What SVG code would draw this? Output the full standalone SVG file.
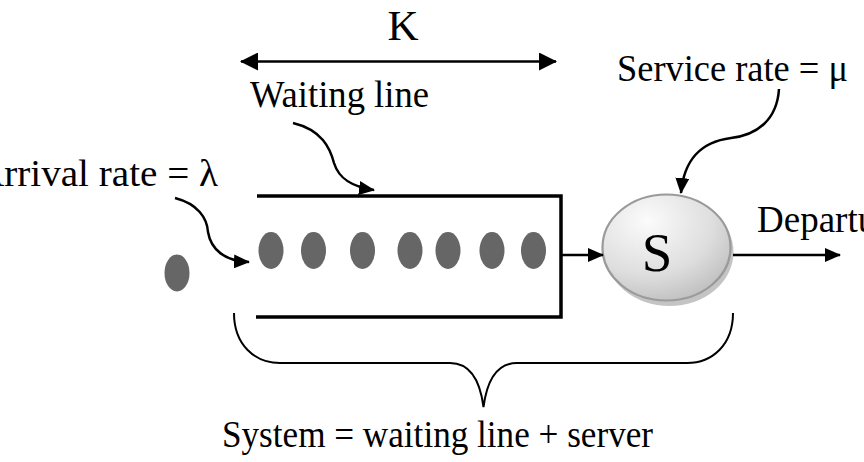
<svg xmlns="http://www.w3.org/2000/svg" width="864" height="462" viewBox="0 0 864 462">
<style>
text{font-family:"Liberation Serif","Times New Roman",serif;fill:#000}
.lbl{font-size:37px}
.dot{fill:#666666}
.box{fill:none;stroke:#000;stroke-width:3.5}
.con{fill:none;stroke:#000;stroke-width:2.5}
.brace{fill:none;stroke:#000;stroke-width:2}
</style>
<defs>
<marker id="ah" markerWidth="16" markerHeight="14" refX="15" refY="7" orient="auto" markerUnits="userSpaceOnUse">
<path d="M0,0 L16,7 L0,14 Z" fill="#000"/>
</marker>
<marker id="ahs" markerWidth="18" markerHeight="18" refX="17" refY="9" orient="auto-start-reverse" markerUnits="userSpaceOnUse">
<path d="M0,0 L18,9 L0,18 Z" fill="#000"/>
</marker>
<radialGradient id="sg" cx="0.35" cy="0.25" r="0.85">
<stop offset="0" stop-color="#fbfbfb"/>
<stop offset="0.6" stop-color="#dedede"/>
<stop offset="1" stop-color="#bababa"/>
</radialGradient>
</defs>

<g id="k-span">
<text x="403" y="40" font-size="43" text-anchor="middle">K</text>
<line x1="241" y1="61.5" x2="556" y2="61.5" class="con" stroke-width="2" marker-start="url(#ahs)" marker-end="url(#ahs)"/>
</g>

<g id="arrival-label"><text class="lbl" x="-24" y="186" textLength="242" lengthAdjust="spacingAndGlyphs">Arrival rate = λ</text></g>
<g id="waiting-label"><text class="lbl" x="250" y="107" textLength="179" lengthAdjust="spacingAndGlyphs">Waiting line</text></g>
<g id="service-label"><text class="lbl" x="617" y="81" textLength="231" lengthAdjust="spacingAndGlyphs">Service rate = μ</text></g>
<g id="departure-label"><text class="lbl" x="757" y="232" font-size="36">Departure</text></g>
<g id="system-label"><text class="lbl" x="222" y="447" textLength="431" lengthAdjust="spacingAndGlyphs">System = waiting line + server</text></g>

<g id="arriving-customer"><ellipse class="dot" cx="177" cy="273" rx="12.5" ry="18.5"/></g>

<g id="queue">
<path class="box" d="M257,196 H561 V317 H256"/>
<ellipse class="dot" cx="271" cy="250.5" rx="12.5" ry="18.5"/>
<ellipse class="dot" cx="313.5" cy="250.5" rx="12.5" ry="18.5"/>
<ellipse class="dot" cx="362.5" cy="250.5" rx="12.5" ry="18.5"/>
<ellipse class="dot" cx="410" cy="250.5" rx="12.5" ry="18.5"/>
<ellipse class="dot" cx="448" cy="250.5" rx="12.5" ry="18.5"/>
<ellipse class="dot" cx="492" cy="250.5" rx="12.5" ry="18.5"/>
<ellipse class="dot" cx="533.5" cy="250.5" rx="12.5" ry="18.5"/>
</g>

<g id="server">
<ellipse cx="669.5" cy="252" rx="64" ry="54" fill="#c4c4c4"/>
<ellipse cx="666.5" cy="247.5" rx="64" ry="53" fill="url(#sg)" stroke="#9a9a9a" stroke-width="2.2"/>
<text x="657" y="271" font-size="55" text-anchor="middle">S</text>
</g>

<g id="connectors">
<path class="con" d="M175,198 C198,204 207,218 208,232 C211,250 225,261 249,262" marker-end="url(#ah)"/>
<path class="con" d="M293,123 C322,130 330,148 334,163 C339,179 352,187 374,190" marker-end="url(#ah)"/>
<path class="con" d="M779,89 C777,120 757,135 731,138 C700,142 684,160 681,193" marker-end="url(#ah)"/>
<line class="con" x1="561" y1="255" x2="603" y2="255" marker-end="url(#ah)"/>
<line class="con" x1="733" y1="255" x2="840" y2="255" marker-end="url(#ah)"/>
<path class="brace" d="M234,313 C234,345 255,363 280,363 L450,363 C470,363 480,380 483.5,407 C487,380 497,363 517,363 L687,363 C712,363 733,345 733,313"/>
</g>
</svg>
